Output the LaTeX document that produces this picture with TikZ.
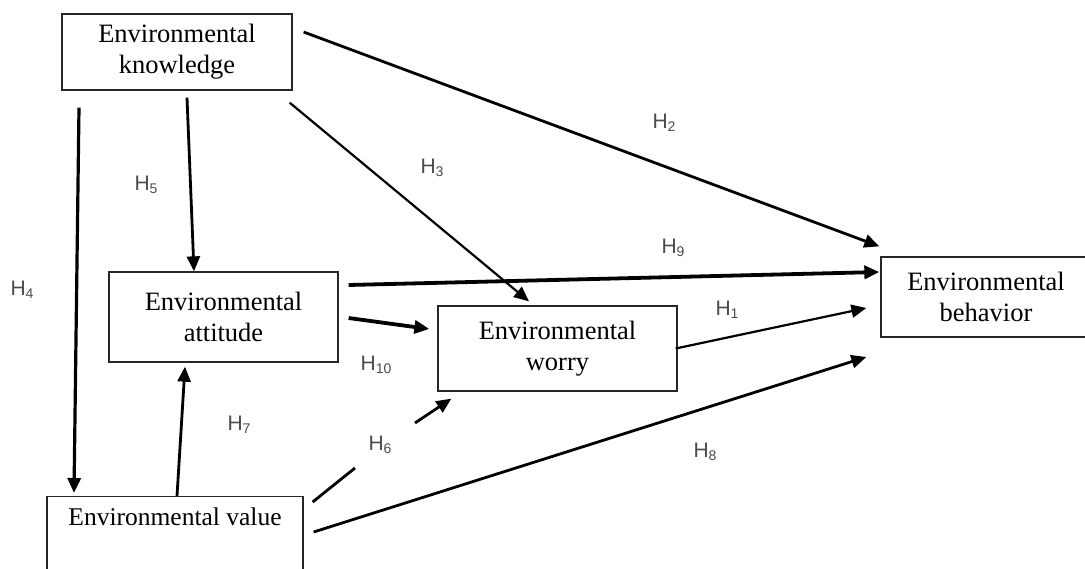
\documentclass[tikz,border=0pt]{standalone}
\usepackage{fontspec}
\setmainfont{Liberation Serif}
\newfontfamily\hsans{Liberation Sans}
\usetikzlibrary{arrows.meta}
\newcommand\hy[1]{H\raisebox{-0.15em}{\fontsize{14}{14}\selectfont #1}}
\begin{document}
\begin{tikzpicture}[x=1pt,y=-1pt,
  box/.style={draw=black!85,line width=1.3pt,fill=white,align=center,inner sep=0pt,
    font=\fontsize{26.5}{31}\selectfont},
  hyp/.style={font=\hsans\fontsize{21}{21}\selectfont,text=black!70,inner sep=0pt},
  arr/.style={line width=2.8pt,-{Triangle[length=15pt,width=13pt]}},
  thin arr/.style={arr,line width=2.2pt},
  thick arr/.style={arr,line width=3.8pt}]
\useasboundingbox (0,0) rectangle (1085,568);
\fill[white] (0,0) rectangle (1085,568);
\clip (0,0) rectangle (1085,568);
% boxes
\node[box,minimum width=230pt,minimum height=76pt] (know) at (177,52) {Environmental\\knowledge};
\node[box,minimum width=229pt,minimum height=90pt] (att) at (223.5,317) {Environmental\\attitude};
\node[box,minimum width=239pt,minimum height=85pt] (worry) at (557.5,348.5) {Environmental\\worry};
\node[box,minimum width=210pt,minimum height=80pt] (beh) at (986,297) {Environmental\\behavior};
\node[box,minimum width=256pt,minimum height=110pt,anchor=north,
  label={[font=\fontsize{25.5}{31}\selectfont,anchor=north,yshift=-8pt]north:Environmental value}] (value) at (175,496) {};
% helper coordinates for the broken H6 line
\coordinate (g1) at (355,468);
\coordinate (g2) at (415,423);
% connectors
\draw[arr,line width=3.2pt] ([shift={(-98,17)}]know.south) -- ([shift={(-101,-3)}]value.north);
\draw[arr] ([shift={(10,7)}]know.south) -- ([shift={(-29.5,0)}]att.north);
\draw[arr] ([shift={(2,0)}]value.north) -- ([shift={(-38.5,4)}]att.south);
\draw[arr] ([shift={(11,-20)}]know.east) -- ([shift={(-1,-10)}]beh.north west);
\draw[thin arr] ([shift={(-3,12)}]know.south east) -- ([shift={(-28.5,-4)}]worry.north);
\draw[thick arr] ([shift={(10,-32)}]att.east) -- ([shift={(-1,-25)}]beh.west);
\draw[thick arr] ([shift={(10,1)}]att.east) -- ([shift={(-8,-19.5)}]worry.west);
\draw[thin arr] ([shift={(-2,0)}]worry.east) -- ([shift={(-14,11)}]beh.west);
\draw[arr] ([shift={(10,36)}]value.north east) -- ([shift={(-14,60)}]beh.west);
\draw[line width=2.8pt] ([shift={(9,6)}]value.north east) -- (g1);
\draw[arr] (g2) -- ([shift={(14,7)}]worry.south west);
% hypothesis labels
\node[hyp] (h2) at (664,123) {\hy{2}};
\node[hyp] (h3) at (432,168) {\hy{3}};
\node[hyp] (h5) at (146,185) {\hy{5}};
\node[hyp] (h4) at (22,290) {\hy{4}};
\node[hyp] (h9) at (673,248) {\hy{9}};
\node[hyp] (h1) at (727,310) {\hy{1}};
\node[hyp] (h10) at (376,365) {\hy{10}};
\node[hyp] (h7) at (239,425) {\hy{7}};
\node[hyp] (h6) at (380,445) {\hy{6}};
\node[hyp] (h8) at (705,452) {\hy{8}};
\end{tikzpicture}
\end{document}
